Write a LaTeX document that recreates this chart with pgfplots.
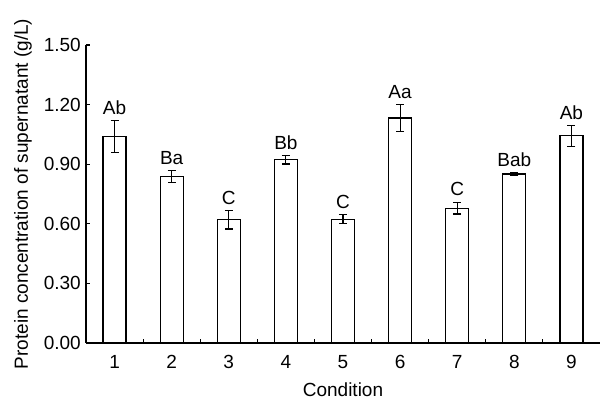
\documentclass[border=0pt]{standalone}
\usepackage{pgfplots}
\pgfplotsset{compat=1.18}
\usepackage{fontspec}
\setmainfont{Liberation Sans}

\begin{document}
\fontsize{19pt}{23pt}\selectfont
\begin{tikzpicture}
\begin{axis}[
    name=ax,
    at={(0,0)}, anchor=origin,
    scale only axis,
    width=514pt, height=298pt,
    xmin=0.5, xmax=9.5,
    ymin=0, ymax=1.5,
    axis lines*=left,
    axis line style={line width=1.2pt},
    every tick/.style={black, line width=1.2pt},
    tick align=inside,
    xtick={1,...,9},
    major x tick style={draw=none},
    minor xtick={1.5,2.5,3.5,4.5,5.5,6.5,7.5,8.5},
    minor tick length=4pt,
    ytick={0,0.3,0.6,0.9,1.2,1.5},
    major tick length=4pt,
    yticklabel={\pgfmathprintnumber[fixed,fixed zerofill,precision=2]{\tick}},
    /pgf/number format/assume math mode=true,
    xticklabel style={inner sep=0pt, anchor=north, yshift=-12pt},
    yticklabel style={inner sep=0pt, anchor=east, xshift=-5pt},
    xlabel={Condition},
    ylabel={Protein concentration of supernatant (g/L)},
    xlabel style={at={(axis description cs:0.5,0)}, anchor=base, inner sep=0pt, yshift=-54pt},
    ylabel style={at={(axis description cs:0,0.5)}, anchor=south, inner sep=0pt, yshift=54pt},
    bar width=23pt,
    clip=false,
]
% bars with standard deviations
\addplot[ybar, draw=black, fill=white, line width=1.2pt,
    error bars/.cd, y dir=both, y explicit,
    error bar style={line width=1.2pt},
    error mark options={rotate=90, mark size=4pt, line width=1.2pt}]
coordinates {
    (1,1.040) +- (0,0.080)
    (2,0.837) +- (0,0.031)
    (3,0.620) +- (0,0.046)
    (4,0.922) +- (0,0.021)
    (5,0.623) +- (0,0.022)
    (6,1.133) +- (0,0.068)
    (7,0.679) +- (0,0.030)
    (8,0.851) +- (0,0.005)
    (9,1.043) +- (0,0.052)
};
% significance letters above the error bars
\addplot[draw=none, nodes near coords, point meta=explicit symbolic,
    every node near coord/.style={anchor=south, inner sep=0pt, yshift=6pt}]
coordinates {
    (1,1.120) [Ab]
    (2,0.868) [Ba]
    (3,0.666) [C]
    (4,0.943) [Bb]
    (5,0.645) [C]
    (6,1.201) [Aa]
    (7,0.709) [C]
    (8,0.856) [Bab]
    (9,1.095) [Ab]
};
\end{axis}
\pgfresetboundingbox
\useasboundingbox (-86pt,-58pt) rectangle (514pt,343pt);
\end{tikzpicture}
\end{document}
